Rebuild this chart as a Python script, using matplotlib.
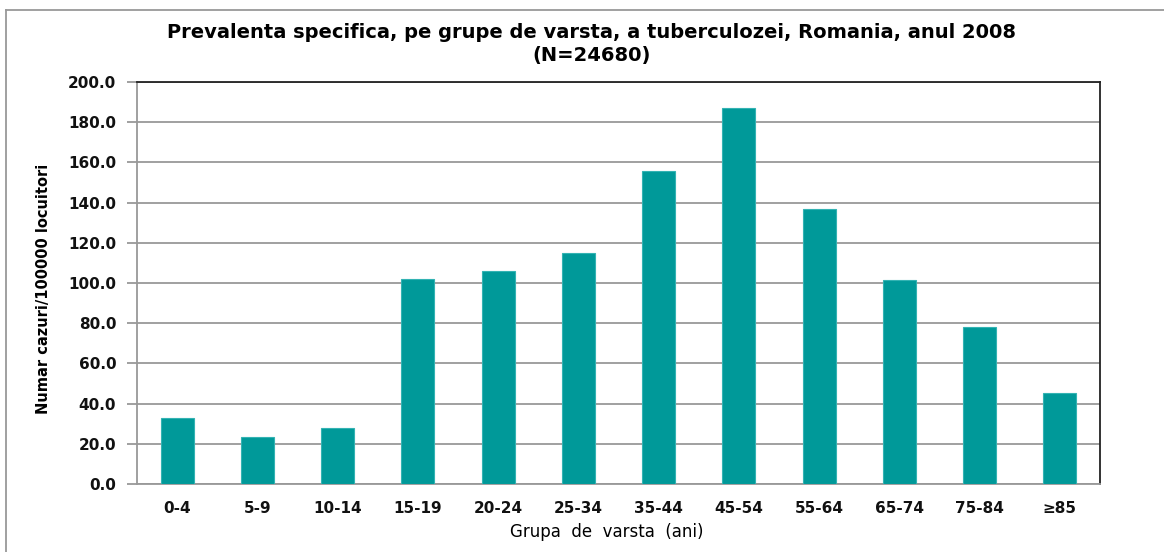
import matplotlib.pyplot as plt
from matplotlib.lines import Line2D

plt.rcParams['font.family'] = ['DejaVu Sans']

groups = ["0-4", "5-9", "10-14", "15-19", "20-24", "25-34", "35-44",
          "45-54", "55-64", "65-74", "75-84", "\u226585"]
prevalence = [33.0, 23.2, 28.0, 102.0, 106.0, 115.0, 155.7,
              186.9, 136.8, 101.3, 78.0, 45.1]
yticks = [0, 20, 40, 60, 80, 100, 120, 140, 160, 180, 200]

fig = plt.figure(figsize=(11.64, 5.52), dpi=100)
ax = fig.add_axes([137 / 1164, 68 / 552, 963 / 1164, 402 / 552])

x = range(len(groups))
ax.bar(x, prevalence, width=0.41, color="#009999", edgecolor="#33b3b3",
       linewidth=0.8, zorder=3)

ax.set_xlim(-0.5, len(groups) - 0.5)
ax.set_ylim(0, 200)
ax.set_yticks(yticks)
ax.set_yticklabels([f"{v:.1f}" for v in yticks])
ax.set_xticks(list(x))
ax.set_xticklabels(groups)
ax.grid(True, axis='y', color="#999999", linewidth=1.3, zorder=0)

# frame: gray left/bottom, dark top/right
ax.spines['left'].set_color("#999999")
ax.spines['bottom'].set_color("#999999")
ax.spines['top'].set_color("#222222")
ax.spines['right'].set_color("#222222")
for s in ax.spines.values():
    s.set_linewidth(1.3)

ax.tick_params(axis='y', length=7, width=1.3, color="#999999", pad=8,
               labelsize=11, labelcolor="#111111")
ax.tick_params(axis='x', length=0, pad=12, labelsize=11, labelcolor="#111111")
for lab in ax.get_yticklabels() + ax.get_xticklabels():
    lab.set_fontweight('bold')

ax.set_xlabel("Grupa  de  varsta  (ani)", fontsize=12)
ax.xaxis.set_label_coords(0.488, -0.097)
ax.set_ylabel("Numar cazuri/100000 locuitori", fontsize=10.5, fontweight='bold')
ax.yaxis.set_label_coords(-0.089, 0.485)

fig.text(0.508, 0.942, "Prevalenta specifica, pe grupe de varsta, a tuberculozei, Romania, anul 2008",
         ha='center', va='center', fontsize=14, fontweight='bold')
fig.text(0.508, 0.900, "(N=24680)", ha='center', va='center',
         fontsize=14, fontweight='bold')

# outer chart border (left and top visible)
fig.add_artist(Line2D([6 / 1164, 6 / 1164], [0, 1 - 10 / 552],
                      transform=fig.transFigure, color="#999999", linewidth=1.3))
fig.add_artist(Line2D([6 / 1164, 1], [1 - 10 / 552, 1 - 10 / 552],
                      transform=fig.transFigure, color="#999999", linewidth=1.3))

fig.savefig("out.png", dpi=100)
